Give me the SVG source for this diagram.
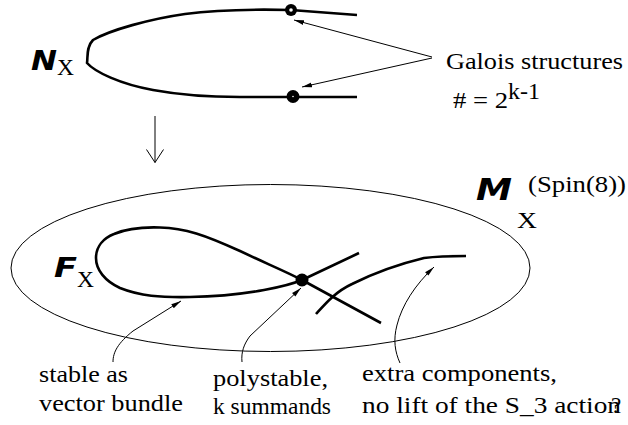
<svg xmlns="http://www.w3.org/2000/svg" width="628" height="425" viewBox="0 0 628 425">
<style>
.t{font-family:"Liberation Serif","Times New Roman",serif;font-size:23px;fill:#000}
.cal{font-family:"DejaVu Sans",sans-serif;font-weight:bold;font-style:oblique;fill:#000}
.thick{fill:none;stroke:#000;stroke-width:2.6;stroke-linecap:butt;stroke-linejoin:round}
.thin{fill:none;stroke:#000;stroke-width:1}
</style>
<defs>
<marker id="ah" viewBox="0 0 10 6" refX="10" refY="3" markerWidth="10" markerHeight="6" markerUnits="userSpaceOnUse" orient="auto">
<path d="M0,0.6 L10,3 L0,5.4 Z" fill="#000"/>
</marker>
</defs>
<rect width="628" height="425" fill="#fff"/>

<g id="NX">
<path class="thick" stroke-width="2.2" d="M357,15 L291,10 C250,9 215,10 185,14 C150,19 110,30 93,40 C86,47 88,57 87,63 C95,72 120,84 153,90 C180,95 205,97 240,97 L357,97"/>
<circle cx="291" cy="10" r="6" fill="#000"/>
<circle cx="291" cy="10" r="1.8" fill="#fff"/>
<circle cx="293" cy="96.5" r="6.5" fill="#000"/>
<circle cx="293" cy="96.5" r="0.8" fill="#fff"/>
<text class="cal" x="31" y="70" font-size="27" textLength="26" lengthAdjust="spacingAndGlyphs">N</text>
<text class="t" x="57" y="75" textLength="17" lengthAdjust="spacingAndGlyphs">X</text>
</g>

<g id="galois">
<text class="t" x="446" y="69" textLength="177" lengthAdjust="spacingAndGlyphs">Galois structures</text>
<text class="t" x="453" y="108" textLength="55" lengthAdjust="spacingAndGlyphs"># = 2</text>
<text class="t" x="508" y="99" font-size="21" textLength="32" lengthAdjust="spacingAndGlyphs">k-1</text>
</g>

<g id="MX">
<ellipse class="thin" cx="270.5" cy="268" rx="259.5" ry="83.5"/>
<text class="cal" x="476" y="200" font-size="31" textLength="36" lengthAdjust="spacingAndGlyphs">M</text>
<text class="t" x="517" y="228" textLength="20" lengthAdjust="spacingAndGlyphs">X</text>
<text class="t" x="528" y="192" font-size="20" textLength="98" lengthAdjust="spacingAndGlyphs">(Spin(8))</text>
</g>

<g id="FX">
<path class="thick" d="M359,253 L302,280 C290,285 250,296 190,297 C160,297.5 140,296 120,288 C105,281 96,270 96,258 C96,246 104,238 114,234 C128,228 145,227 160,227.5 C185,228 205,235 240,251 C265,263 285,271 302,280 L381,323"/>
<circle cx="302" cy="280" r="6.5" fill="#000"/>
<text class="cal" x="54" y="277" font-size="27" textLength="23" lengthAdjust="spacingAndGlyphs">F</text>
<text class="t" x="77" y="287" textLength="17" lengthAdjust="spacingAndGlyphs">X</text>
</g>

<g id="extra">
<path class="thick" stroke-width="3.3" d="M316,314 C325,304 335,292 352,284 C370,275 395,265 424,258 C440,256 455,256 466,256"/>
</g>

<g id="connectors">
<path class="thin" d="M155,116 L155,162.5 M146.5,149.5 L155,162.5 L163.5,149.5"/>
<path class="thin" d="M432,57 L294,20" marker-end="url(#ah)"/>
<path class="thin" d="M432,58 L302,87" marker-end="url(#ah)"/>
<path class="thin" d="M113,362 C113,352 118,343 133,331 L181,301" marker-end="url(#ah)"/>
<path class="thin" d="M242,362 C241,352 244,344 250,336 L301,288" marker-end="url(#ah)"/>
<path class="thin" d="M400,363 C395,352 393,340 397,325 C402,305 415,285 434,267" marker-end="url(#ah)"/>
</g>

<g id="labels">
<text class="t" x="39" y="382" textLength="89" lengthAdjust="spacingAndGlyphs">stable as</text>
<text class="t" x="39" y="411" textLength="144" lengthAdjust="spacingAndGlyphs">vector bundle</text>
<text class="t" x="213" y="386" textLength="115" lengthAdjust="spacingAndGlyphs">polystable,</text>
<text class="t" x="213" y="414" textLength="118" lengthAdjust="spacingAndGlyphs">k summands</text>
<text class="t" x="362" y="381" textLength="195" lengthAdjust="spacingAndGlyphs">extra components,</text>
<text class="t" x="362" y="413" textLength="259" lengthAdjust="spacingAndGlyphs">no lift of the S_3 action</text>
<text class="t" x="611" y="413">?</text>
</g>
</svg>
